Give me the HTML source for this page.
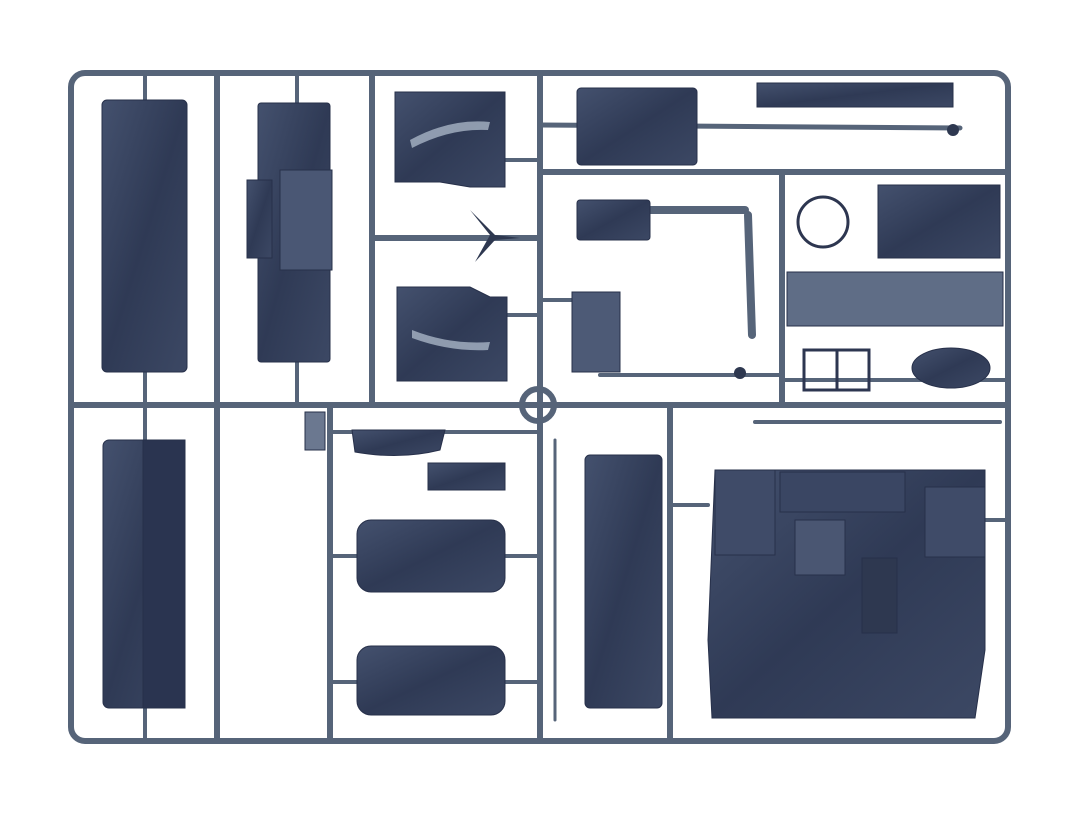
<!DOCTYPE html>
<html><head><meta charset="utf-8"><style>html,body{margin:0;padding:0;background:#fff;width:1090px;height:834px;overflow:hidden}</style></head>
<body>
<svg width="1090" height="834" viewBox="0 0 1090 834" xmlns="http://www.w3.org/2000/svg">
<defs>
<linearGradient id="p" x1="0" y1="0" x2="1" y2="1">
<stop offset="0" stop-color="#44516e"/><stop offset="0.5" stop-color="#2f3a55"/><stop offset="1" stop-color="#3c4864"/>
</linearGradient>
</defs>
<g stroke="#566479" stroke-width="6" fill="none" stroke-linecap="round">
<rect x="71" y="73" width="937" height="668" rx="14"/>
<line x1="71" y1="405" x2="1008" y2="405"/>
<line x1="217" y1="73" x2="217" y2="741"/>
<line x1="372" y1="73" x2="372" y2="405"/>
<line x1="540" y1="73" x2="540" y2="741"/>
<line x1="540" y1="172" x2="1008" y2="172"/>
<line x1="782" y1="172" x2="782" y2="405"/>
<line x1="330" y1="405" x2="330" y2="741"/>
<line x1="670" y1="405" x2="670" y2="741"/>
<line x1="372" y1="238" x2="540" y2="238"/>
<line x1="540" y1="125" x2="960" y2="128" stroke-width="5"/>
<line x1="650" y1="210" x2="745" y2="210" stroke-width="8"/>
<line x1="748" y1="215" x2="752" y2="335" stroke-width="8"/>
<line x1="600" y1="375" x2="782" y2="375" stroke-width="4"/>
<line x1="782" y1="380" x2="1008" y2="380" stroke-width="4"/>
<line x1="755" y1="422" x2="1000" y2="422" stroke-width="4"/>
<line x1="330" y1="432" x2="540" y2="432" stroke-width="4"/>
<line x1="330" y1="556" x2="357" y2="556" stroke-width="4"/>
<line x1="505" y1="556" x2="540" y2="556" stroke-width="4"/>
<line x1="330" y1="682" x2="357" y2="682" stroke-width="4"/>
<line x1="505" y1="682" x2="540" y2="682" stroke-width="4"/>
<line x1="670" y1="505" x2="708" y2="505" stroke-width="4"/>
<line x1="985" y1="520" x2="1008" y2="520" stroke-width="4"/>
<line x1="145" y1="73" x2="145" y2="100" stroke-width="4"/>
<line x1="145" y1="372" x2="145" y2="405" stroke-width="4"/>
<line x1="297" y1="73" x2="297" y2="103" stroke-width="4"/>
<line x1="297" y1="362" x2="297" y2="405" stroke-width="4"/>
<line x1="145" y1="405" x2="145" y2="440" stroke-width="4"/>
<line x1="145" y1="708" x2="145" y2="741" stroke-width="4"/>
<line x1="555" y1="440" x2="555" y2="720" stroke-width="3"/>
<line x1="540" y1="300" x2="572" y2="300" stroke-width="4"/>
<line x1="505" y1="160" x2="540" y2="160" stroke-width="4"/>
<line x1="505" y1="315" x2="540" y2="315" stroke-width="4"/>
</g>
<circle cx="538" cy="405" r="16" fill="none" stroke="#566479" stroke-width="6"/>
<g fill="url(#p)" stroke="#27304a" stroke-width="1">
<rect x="102" y="100" width="85" height="272" rx="5"/>
<rect x="258" y="103" width="72" height="259" rx="3"/>
<rect x="247" y="180" width="25" height="78"/>
<rect x="280" y="170" width="52" height="100" fill="#4a5774"/>
<path d="M395 92 H505 V187 H470 L440 182 H395 Z"/>
<path d="M397 287 H470 L490 297 H507 V381 H397 Z"/>
<rect x="577" y="88" width="120" height="77" rx="4"/>
<rect x="757" y="83" width="196" height="24"/>
<rect x="577" y="200" width="73" height="40" rx="3"/>
<rect x="572" y="292" width="48" height="80" fill="#4d5a76"/>
<rect x="878" y="185" width="122" height="73"/>
<rect x="787" y="272" width="216" height="54" fill="#5f6d86"/>
<ellipse cx="951" cy="368" rx="39" ry="20"/>
<rect x="103" y="440" width="82" height="268" rx="6"/>
<rect x="143" y="440" width="42" height="268" fill="#2a3450"/>
<path d="M352 430 H445 L440 450 Q400 460 355 452 Z"/>
<path d="M428 463 H505 V490 H428 Z"/>
<rect x="357" y="520" width="148" height="72" rx="14"/>
<rect x="357" y="646" width="148" height="69" rx="14"/>
<rect x="585" y="455" width="77" height="253" rx="5"/>
<path d="M715 470 H985 V650 L975 718 H712 L708 640 Z"/>
<rect x="715" y="470" width="60" height="85" fill="#3f4b68"/>
<rect x="925" y="487" width="60" height="70" fill="#3f4b68"/>
<rect x="780" y="472" width="125" height="40" fill="#3a4663"/>
<rect x="795" y="520" width="50" height="55" fill="#4a5672"/>
<rect x="862" y="558" width="35" height="75" fill="#2e3850"/>
<rect x="305" y="412" width="20" height="38" fill="#6b7890"/>
</g>
<g stroke="#2d3650" fill="none" stroke-width="3">
<circle cx="823" cy="222" r="25"/>
<rect x="804" y="350" width="65" height="40"/>
<line x1="837" y1="350" x2="837" y2="390"/>
</g>
<g fill="#b8c4d4" opacity="0.7">
<path d="M410 140 Q450 118 490 122 L488 130 Q450 128 412 148 Z"/>
<path d="M412 330 Q450 345 490 342 L488 350 Q450 352 412 338 Z"/>
</g>
<g fill="#2e3850">
<polygon points="470,210 490,235 475,262 495,240 520,238 495,235"/>
<circle cx="740" cy="373" r="6"/>
<circle cx="953" cy="130" r="6"/>
</g>
</svg>
</body></html>
